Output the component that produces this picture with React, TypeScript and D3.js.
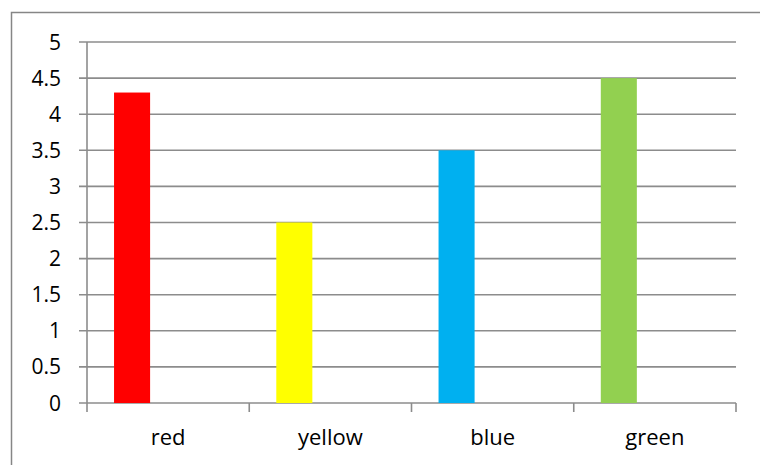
import React from "react";
import * as d3 from "d3";

const categories = ["red", "yellow", "blue", "green"];
const values = [4.3, 2.5, 3.5, 4.5];
const colors = ["#FF0000", "#FFFF00", "#00B0F0", "#92D050"];
const yTicks = [0, 0.5, 1, 1.5, 2, 2.5, 3, 3.5, 4, 4.5, 5];

const W = 760;
const H = 465;
const left = 87;
const right = 736;
const top = 42;
const bottom = 403;
const gridColor = "#8C8C8C";
const font = "'Open Sans', sans-serif";

export default function App() {
  const x = d3.scaleBand<string>().domain(categories).range([left, right]).padding(0);
  const y = d3.scaleLinear().domain([0, 5]).range([bottom, top]);
  const bw = x.bandwidth();
  const boundaries = [...categories.map((c) => x(c) as number), right];

  return (
    <svg
      width={W}
      height={H}
      style={{ position: "absolute", left: 0, top: 0, background: "#fff" }}
    >
      <rect x={11.5} y={12.5} width={W} height={H} fill="#fff" stroke="#868686" strokeWidth={1.5} />
      {yTicks.map((t) => (
        <g key={t}>
          <line x1={left - 8} x2={right} y1={y(t)} y2={y(t)} stroke={gridColor} strokeWidth={1.6} />
          <text
            x={61}
            y={y(t)}
            dy="0.36em"
            textAnchor="end"
            fontFamily={font}
            fontSize={21}
            fill="#000"
          >
            {t}
          </text>
        </g>
      ))}
      <line x1={left} x2={left} y1={top} y2={bottom} stroke={gridColor} strokeWidth={1.6} />
      {boundaries.map((b, i) => (
        <line key={i} x1={b} x2={b} y1={bottom} y2={bottom + 9} stroke={gridColor} strokeWidth={1.6} />
      ))}
      {categories.map((c, i) => (
        <rect
          key={c}
          x={(x(c) as number) + bw * (0.75 / 4.5)}
          y={y(values[i])}
          width={bw / 4.5}
          height={y(0) - y(values[i])}
          fill={colors[i]}
        />
      ))}
      {categories.map((c) => (
        <text
          key={c}
          x={(x(c) as number) + bw / 2}
          y={445}
          textAnchor="middle"
          fontFamily={font}
          fontSize={22}
          fill="#000"
        >
          {c}
        </text>
      ))}
    </svg>
  );
}
